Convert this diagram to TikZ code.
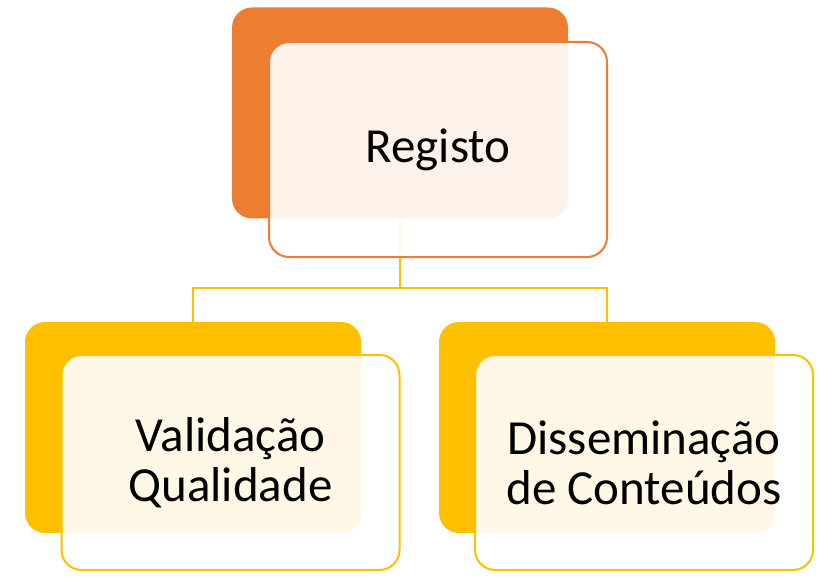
\documentclass[tikz,border=0pt]{standalone}
\usepackage{fontspec}
\setmainfont{Carlito}
\definecolor{regorange}{HTML}{ED7D31}
\definecolor{valyellow}{HTML}{FFC000}
\begin{document}
\begin{tikzpicture}[x=1pt,y=-1pt,
  backbox/.style={rounded corners=20pt, minimum width=336pt, minimum height=211pt, inner sep=0pt},
  frontbox/.style={rounded corners=20pt, draw, line width=2pt, fill=white, fill opacity=0.9, text opacity=1,
    minimum width=338pt, minimum height=215pt, inner sep=0pt, align=center, font=\fontsize{49}{50}\selectfont},
  link/.style={draw=valyellow, line width=2pt}]
\useasboundingbox (0,0) rectangle (821,577);

% back panels
\node[backbox, fill=regorange] (regback) at (400,113) {};
\node[backbox, fill=valyellow] (valback) at (193,427.5) {};
\node[backbox, fill=valyellow] (disback) at (607,427.5) {};

% connectors
\coordinate (fork) at (400,288);
\draw[link] (regback.south) -- (fork) -| ([yshift=-4pt]valback.north);
\draw[link] (fork) -| ([yshift=-4pt]disback.north);

% front panels
\node[frontbox, draw=regorange] (reg) at (438,149.5) {Registo};
\node[frontbox, draw=valyellow] (val) at (230.5,462.5) {Validação\\Qualidade};
\node[frontbox, draw=valyellow] (dis) at (644,462.5) {Disseminação\\de Conteúdos};

\end{tikzpicture}
\end{document}
